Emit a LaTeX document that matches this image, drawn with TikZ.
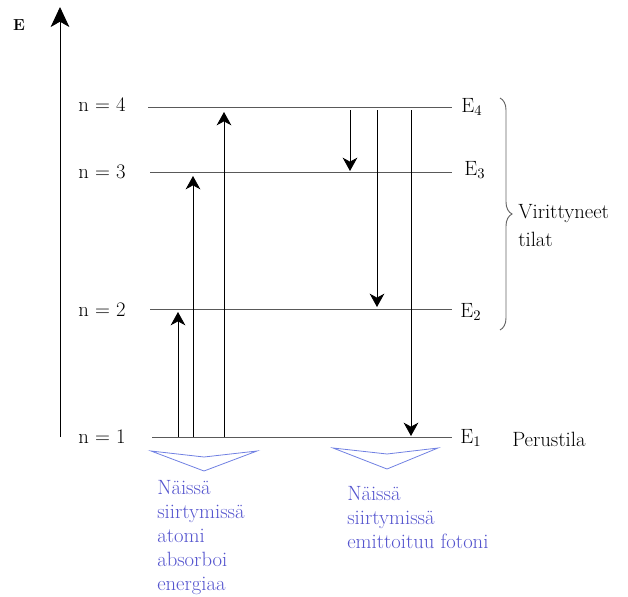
\documentclass[tikz,border=0pt]{standalone}
\usepackage{fontspec}
\usepackage{tikz}
\usetikzlibrary{arrows.meta,decorations.pathreplacing}

\definecolor{noteblue}{RGB}{84,84,206}
\definecolor{chevblue}{RGB}{112,128,226}

\begin{document}
\begin{tikzpicture}[
    x=0.75pt, y=-0.75pt,
    font=\fontsize{15.5}{18}\selectfont,
    level/.style={draw, black!65, line width=0.7pt},
    axis/.style={-{Stealth[length=15pt,width=14pt,inset=4pt]}, line width=0.7pt},
    trans/.style={-{Stealth[length=10pt,width=11pt,inset=3pt]}, line width=0.6pt},
    nlab/.style={anchor=east, inner sep=0pt},
    elab/.style={anchor=west, inner sep=0pt},
    note/.style={anchor=north west, inner sep=0pt, align=left, text=noteblue, font=\fontsize{15.5}{18}\selectfont},
    chevron/.style={draw=chevblue, line width=0.6pt, line join=miter},
    bracket/.style={draw=black!60, line width=0.7pt, decorate, decoration={brace, amplitude=9pt}}
]
\useasboundingbox (0,0) rectangle (628,596);
% ----- energy axis -----
\coordinate (ax0) at (60,437);
\coordinate (ax1) at (60,7);
\draw[axis] (ax0) -- (ax1);
\node[font=\fontsize{12}{14}\selectfont\bfseries] (E) at (19,25) {E};
% ----- levels -----
\foreach \k/\y/\xs in {4/107/148, 3/172/150, 2/309/150, 1/437/152} {
  \coordinate (lv\k-w) at (\xs,\y);
  \coordinate (lv\k-e) at (452,\y);
  \draw[level] (lv\k-w) -- (lv\k-e);
}
\node[nlab] (n4) at (126,105) {n = 4};
\node[nlab] (n3) at (126,172) {n = 3};
\node[nlab] (n2) at (126,310) {n = 2};
\node[nlab] (n1) at (126,437) {n = 1};
\node[elab] (E4) at (461,107) {E$_{4}$};
\node[elab] (E3) at (464,170) {E$_{3}$};
\node[elab] (E2) at (460,312) {E$_{2}$};
\node[elab] (E1) at (460,438) {E$_{1}$};
% ----- absorption (up) -----
\foreach \i/\x/\yt in {a/178/312, b/193/176, c/224/112} {
  \coordinate (up\i-s) at (\x,437);
  \coordinate (up\i-e) at (\x,\yt);
  \draw[trans] (up\i-s) -- (up\i-e);
}
% ----- emission (down) -----
\foreach \i/\x/\yt in {a/350/171, b/377/307, c/411/436} {
  \coordinate (dn\i-s) at (\x,110);
  \coordinate (dn\i-e) at (\x,\yt);
  \draw[trans] (dn\i-s) -- (dn\i-e);
}
% ----- excited states brace -----
\coordinate (br-t) at (500,98);
\coordinate (br-b) at (500,330);
\draw[bracket] (br-t) -- (br-b);
\node[anchor=base west, inner sep=0pt] (exc) at (518,218) {Virittyneet};
\node[anchor=base west, inner sep=0pt] (exc2) at (518,246) {tilat};
\node[anchor=west, inner sep=0pt] (ground) at (512,439) {Perustila};
% ----- notes -----
\draw[chevron] (151,451) -- (204,457) -- (257,451) -- (204,471) -- cycle;
\draw[chevron] (333,448) -- (387,454) -- (438,448) -- (387,469) -- cycle;
\node[note] (absnote) at (157,480) {Näissä\\siirtymissä\\atomi\\absorboi\\energiaa};
\node[note] (emnote) at (347,486) {Näissä\\siirtymissä\\emittoituu fotoni};
\end{tikzpicture}
\end{document}
